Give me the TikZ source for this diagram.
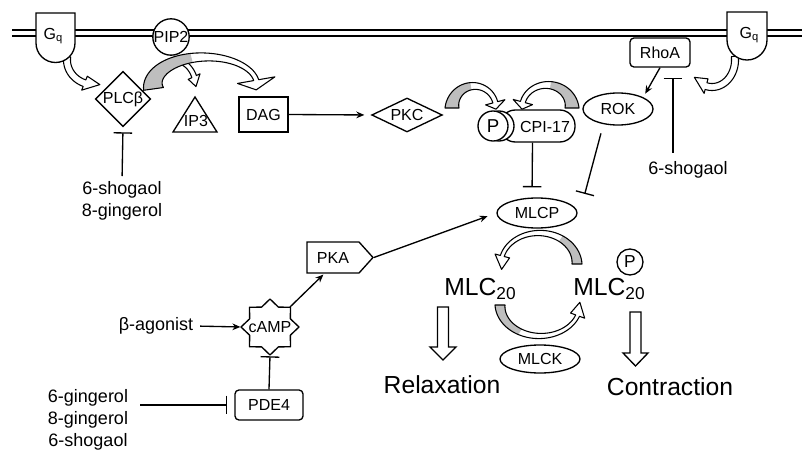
\documentclass[tikz,border=0pt]{standalone}
\usepackage{fontspec}
\setmainfont{Liberation Sans}
\usetikzlibrary{arrows.meta,shapes.geometric,shapes.symbols,calc}
\definecolor{fatgrey}{RGB}{190,190,190}
\newcommand\lowsub[1]{\raisebox{-0.32ex}{\scalebox{0.7}{#1}}}
\pgfkeys{/ta/.is family,/ta,
  cx/.store in=\tacx, cy/.store in=\tacy, rx/.store in=\tarx, ry/.store in=\tary,
  a/.store in=\taa, b/.store in=\tab, wt/.store in=\tawt, wh/.store in=\tawh,
  hw/.store in=\tahw, d/.store in=\tad, g/.store in=\tag, p/.store in=\tap}
\def\tanone{none}
\newcommand\taF{(((\tab)-(\t))/((\tab)-(\taa)))}
\newcommand\taW{((\tawh)+((\tawt)-(\tawh))*\taF*(1+((\tap)-1)*(\taF-1)))}
\newcommand\tapath{plot[domain=\taa:\tab,samples=41,variable=\t]({(\tacx)+((\tarx)+\taW/2)*cos(\t)},{(\tacy)+((\tary)+\taW/2)*sin(\t)})
 -- ({(\tacx)+((\tarx)+(\tahw)/2)*cos(\tab)},{(\tacy)+((\tary)+(\tahw)/2)*sin(\tab)})
 -- ({(\tacx)+(\tarx)*cos((\tab)+(\tad))},{(\tacy)+(\tary)*sin((\tab)+(\tad))})
 -- ({(\tacx)+((\tarx)-(\tahw)/2)*cos(\tab)},{(\tacy)+((\tary)-(\tahw)/2)*sin(\tab)})
 -- plot[domain=\tab:\taa,samples=41,variable=\t]({(\tacx)+((\tarx)-\taW/2)*cos(\t)},{(\tacy)+((\tary)-\taW/2)*sin(\t)}) -- cycle}
\newcommand\tagpath{plot[domain=\taa:\tag,samples=31,variable=\t]({(\tacx)+((\tarx)+\taW/2)*cos(\t)},{(\tacy)+((\tary)+\taW/2)*sin(\t)})
 -- plot[domain=\tag:\taa,samples=31,variable=\t]({(\tacx)+((\tarx)-\taW/2)*cos(\t)},{(\tacy)+((\tary)-\taW/2)*sin(\t)}) -- cycle}
\newcommand\fatarc[1]{%
  \pgfkeys{/ta,g=none,p=1,#1}%
  \fill[white] \tapath;
  \ifx\tag\tanone\else\fill[fatgrey] \tagpath;\fi
  \draw[line width=0.8pt,line join=round] \tapath;
}
\begin{document}
\begin{tikzpicture}[x=0.75pt,y=-0.75pt,
  every node/.style={font=\fontsize{12}{13.5}\selectfont, inner sep=0pt},
  box/.style={draw, line width=1pt, fill=white},
  lbl/.style={font=\fontsize{13.5}{16.5}\selectfont, align=center},
  big/.style={font=\fontsize{18.5}{20}\selectfont},
  act/.style={line width=1pt, -{Stealth[length=6pt,width=5pt]}},
  inh/.style={line width=1pt, -{Bar[width=14pt,line width=1pt]}},
  blk/.style={draw, line width=1pt, fill=white, line join=miter}]
\fill[white] (0,0) rectangle (802,452);
\useasboundingbox (0,0) rectangle (802,452);
% membrane
\draw[line width=1pt] (12,30) -- (802,30);
\draw[line width=1pt] (12,36) -- (802,36);
% hollow arrows from Gq
\fatarc{cx=95,cy=60,rx=28,ry=25,a=188,b=112,wt=7,wh=7,hw=15,d=-32}
\fatarc{cx=712,cy=60,rx=23,ry=27,a=-8,b=105,wt=7,wh=7,hw=15,d=35}
% Gq left
\draw[blk] (36,13) -- (36,43) arc[start angle=180,end angle=0,radius=19.5] -- (75,13) -- cycle;
\node[font=\fontsize{12}{13}\selectfont] (gqL) at (53,36) {G\lowsub{q}};
% Gq right
\draw[blk] (727,12) -- (727,40) arc[start angle=180,end angle=0,radius=20] -- (767,12) -- cycle;
\node[font=\fontsize{12}{13}\selectfont] (gqR) at (749,35) {G\lowsub{q}};
% PIP2
\node[box, circle, minimum size=27pt] (pip2) at (171,37) {PIP2};
% PLC arrows
\fatarc{cx=176,cy=88,rx=20,ry=27,a=265,b=335,wt=5,wh=5,hw=13,d=22}
\fatarc{cx=205,cy=85,rx=52,ry=28,a=172,b=350,wt=20,wh=5,hw=38,d=20,g=255,p=2}
% PLC beta
\node[box, diamond, minimum width=40.5pt, minimum height=40.5pt] (plc) at (123,99) {PLCβ};
% IP3
\draw[blk] (173,132) -- (195,97) -- (217,132) -- cycle;
\node (ip3) at (196,121) {IP3};
% DAG, PKC
\node[box, rectangle, minimum width=36.75pt, minimum height=26.25pt] (dag) at (263.5,114.5) {DAG};
\node[box, diamond, aspect=2, minimum width=53pt, minimum height=25.5pt] (pkc) at (407,115) {PKC};
% arrows to CPI-17
\fatarc{cx=474,cy=108,rx=22,ry=22,a=180,b=345,wt=14,wh=5,hw=20,d=18,g=262,p=2}
\fatarc{cx=547,cy=108,rx=25,ry=23,a=0,b=-165,wt=14,wh=5,hw=20,d=-18,g=-82,p=2}
% CPI-17
\node[box, rectangle, rounded corners=11.5pt, minimum width=56.25pt, minimum height=24pt] (cpi) at (537.5,126) {};
\node[box, circle, minimum size=22.5pt] (pb) at (499,126) {};
\node[box, circle, minimum size=22.5pt, font=\fontsize{14}{15}\selectfont] (pc) at (493,126) {P};
\node (cpit) at (545,127) {CPI-17};
% ROK, RhoA
\node[box, ellipse, minimum width=52.5pt, minimum height=24pt] (rok) at (618,109) {ROK};
\node[box, rectangle, rounded corners=3pt, minimum width=45pt, minimum height=21.75pt] (rhoa) at (660,52.5) {RhoA};
\node[lbl] (inhB) at (688,170) {6-shogaol};
\coordinate (sb) at (673,153);
% MLCP etc
\node[box, ellipse, minimum width=60pt, minimum height=22.5pt] (mlcp) at (537,213) {MLCP};
\node[box, signal, signal to=east, signal pointer angle=96, minimum width=49.5pt, minimum height=23.25pt] (pka) at (333,257.5) {PKA};
% cAMP star
\draw[blk, line join=round] (299,327) foreach \i in {1,...,15}{ -- ({270+(mod(\i,2)==0 ? 29 : 22)*cos(\i*22.5)},{327+(mod(\i,2)==0 ? 28 : 21.5)*sin(\i*22.5)}) } -- cycle;
\node[circle, minimum size=42pt] (camp) at (270,327) {cAMP};
\node[box, rectangle, rounded corners=3pt, minimum width=51pt, minimum height=22.5pt] (pde4) at (269,405) {PDE4};
\node[box, ellipse, minimum width=60pt, minimum height=21pt] (mlck) at (540,359) {MLCK};
% cycle arrows
\fatarc{cx=539,cy=264,rx=38,ry=31,a=0,b=-165,wt=10,wh=4,hw=15,d=-25,g=-55,p=2}
\fatarc{cx=540,cy=305,rx=40,ry=31,a=180,b=20,wt=10,wh=4,hw=15,d=-25,g=120,p=2}
% MLC20
\node[big] (mlcl) at (480,289) {MLC\lowsub{20}};
\node[big] (mlcr) at (609,289) {MLC\lowsub{20}};
\node[box, circle, minimum size=19.5pt, font=\fontsize{13}{14}\selectfont] (pm) at (630,262) {P};
\node[big] (relax) at (442,385) {Relaxation};
\node[big] (contr) at (670,387) {Contraction};
\draw[blk] (437.5,307) -- (448.5,307) -- (448.5,347) -- (456,347) -- (443,360) -- (430,347) -- (437.5,347) -- cycle;
\draw[blk] (630,312) -- (641,312) -- (641,353) -- (648,353) -- (635.5,366) -- (623,353) -- (630,353) -- cycle;
% labels
\node[lbl] (inhA) at (122,201) {6-shogaol\\8-gingerol};
\node[lbl] (bag) at (156,326) {β-agonist};
\node[lbl] (inhC) at (88,420) {6-gingerol\\8-gingerol\\6-shogaol};
% connectors
\draw[inh, shorten <=4pt, shorten >=3.75pt] (inhA.north) -- (plc.south);
\draw[act, shorten >=5pt] (dag.east) -- (pkc.west);
\draw[act, shorten >=3pt] (rhoa.south) -- (rok.north east);
\draw[inh, shorten >=7.5pt] (sb) -- (sb |- rhoa.south);
\draw[inh, shorten >=7.5pt] ($(cpi.south)+(-5,0)$) -- ($(mlcp.north)+(-5,0)$);
\draw[inh, shorten <=6pt] ($(rok.south)+(-15,0)$) -- ($(mlcp.north east)+(19,-8)$);
\draw[act, shorten >=7pt] (pka.east) -- (mlcp.west);
\draw[act, shorten >=1pt] (camp.north east) -- ($(pka.south west)+(18,0)$);
\draw[act, shorten <=5pt, shorten >=1pt] (bag.east) -- (camp.west);
\draw[inh, shorten >=0.75pt] (pde4.north) -- (camp.south);
\draw[inh, shorten >=5.25pt] ($(inhC.east |- pde4.west)+(12,0)$) -- (pde4.west);
\end{tikzpicture}
\end{document}
